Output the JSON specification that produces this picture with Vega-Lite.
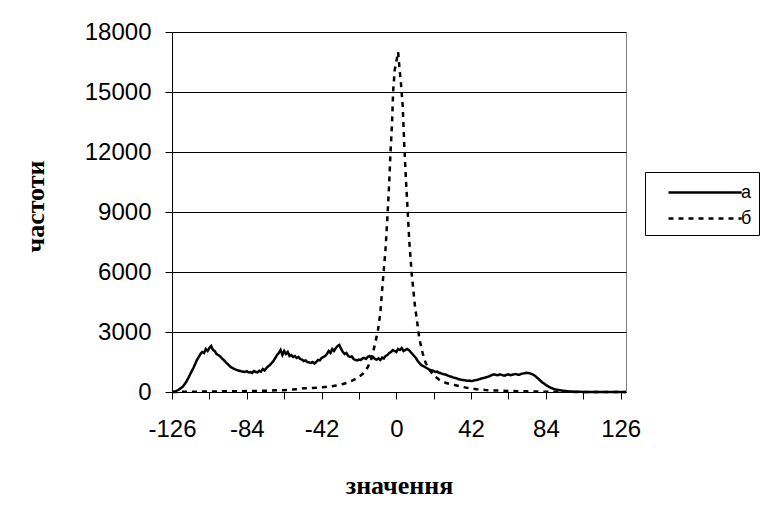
{
  "$schema": "https://vega.github.io/schema/vega-lite/v6.json",
  "autosize": {"type": "none"},
  "padding": {"left": 172, "top": 32, "right": 134, "bottom": 115},
  "width": 454,
  "height": 360,
  "background": "white",
  "config": {
    "font": "Liberation Sans",
    "view": {"stroke": "#808080", "strokeWidth": 1},
    "axis": {"labelColor": "black", "titleColor": "black", "domainColor": "black", "tickColor": "black", "domainWidth": 1, "tickWidth": 1}
  },
  "datasets": {
    "a": [
      [-126,0],[-124,30],[-122,130],[-120,260],[-118,500],[-116,850],[-114,1200],[-112,1600],[-110,1900],[-109,2000],[-108,1950],[-107,2150],[-106,2050],[-105,2200],[-104,2300],[-103,2100],[-102,2050],[-101,1900],[-100,1850],[-99,1780],[-97,1600],[-95,1420],[-93,1250],[-91,1150],[-89,1080],[-87,1030],[-85,1000],[-84,1040],[-83,980],[-82,1000],[-81,950],[-80,1050],[-79,1000],[-78,980],[-77,1060],[-76,1020],[-75,1150],[-74,1080],[-73,1200],[-72,1280],[-71,1350],[-70,1450],[-69,1550],[-68,1700],[-67,1850],[-66,1950],[-65,2100],[-64,1850],[-63,2050],[-62,1900],[-61,2000],[-60,1800],[-59,1850],[-58,1750],[-57,1800],[-56,1700],[-55,1750],[-54,1650],[-53,1620],[-52,1550],[-51,1580],[-50,1500],[-49,1480],[-48,1450],[-47,1500],[-46,1420],[-45,1500],[-44,1600],[-43,1580],[-42,1700],[-41,1750],[-40,1800],[-39,1900],[-38,2050],[-37,1950],[-36,2150],[-35,2050],[-34,2200],[-33,2300],[-32,2350],[-31,2150],[-30,2000],[-29,1900],[-28,1950],[-27,1800],[-26,1750],[-25,1780],[-24,1650],[-23,1600],[-22,1580],[-21,1620],[-20,1600],[-19,1680],[-18,1700],[-17,1650],[-16,1760],[-15,1800],[-14,1700],[-13,1750],[-12,1650],[-11,1620],[-10,1680],[-9,1600],[-8,1720],[-7,1680],[-6,1800],[-5,1850],[-4,1950],[-3,2000],[-2,2100],[-1,2050],[0,2000],[1,2150],[2,2100],[3,2200],[4,2050],[5,2100],[6,2150],[7,2100],[8,2000],[9,1900],[10,1800],[11,1700],[12,1550],[13,1450],[14,1350],[15,1300],[16,1250],[17,1200],[18,1150],[19,1100],[20,1080],[21,1050],[22,1000],[23,1020],[24,960],[25,940],[26,900],[27,880],[28,860],[29,820],[30,780],[31,760],[32,720],[33,700],[34,680],[35,640],[36,620],[37,600],[38,590],[39,580],[40,560],[41,570],[42,550],[43,560],[44,580],[45,600],[46,620],[47,650],[48,680],[49,700],[50,720],[51,750],[52,780],[53,820],[54,860],[55,880],[56,850],[57,840],[58,880],[59,860],[60,830],[61,820],[62,860],[63,880],[64,840],[65,860],[66,880],[67,900],[68,870],[69,860],[70,900],[71,920],[72,940],[73,960],[74,950],[75,930],[76,900],[77,860],[78,800],[79,720],[80,640],[81,560],[82,480],[83,420],[84,350],[85,300],[86,250],[87,200],[88,170],[89,140],[90,120],[91,100],[92,85],[93,70],[95,50],[97,30],[100,15],[105,5],[110,0],[120,0],[129,0]
    ],
    "b": [
      [-126,0],[-120,10],[-110,20],[-100,30],[-90,40],[-80,50],[-70,70],[-60,110],[-55,150],[-52,185],[-48,200],[-44,215],[-40,250],[-36,290],[-34,320],[-30,400],[-28,450],[-26,520],[-24,600],[-22,700],[-20,820],[-18.6,935],[-16,1250],[-14,1650],[-12.1,2350],[-10.3,3100],[-9,3935],[-7.6,5515],[-6.1,7100],[-5,8765],[-4.1,10265],[-3.3,11935],[-2.4,13435],[-1.8,15015],[-0.9,16100],[1,17000],[1.7,16265],[2.6,15435],[3.6,14265],[4.5,12265],[5.4,10600],[6.4,9015],[7.3,7515],[8.6,5935],[10.5,4265],[11.8,3435],[12.9,2685],[14.8,1935],[16.5,1450],[18.7,1100],[21,820],[24.3,600],[28,450],[32.7,350],[37,260],[41,185],[45,140],[50,100],[55,80],[60,60],[70,40],[80,20],[90,10],[100,5],[110,0],[129,0]
    ]
  },
  "layer": [
    {
      "data": {"name": "a"},
      "transform": [
        {"calculate": "'а'", "as": "s"},
        {"calculate": "datum[0]", "as": "x"},
        {"calculate": "datum[1]", "as": "y"}
      ],
      "mark": {"type": "line", "color": "black", "strokeWidth": 2.5},
      "encoding": {
        "x": {"field": "x", "type": "quantitative"},
        "y": {"field": "y", "type": "quantitative"},
        "strokeDash": {"field": "s", "type": "nominal"}
      }
    },
    {
      "data": {"name": "b"},
      "transform": [
        {"calculate": "'б'", "as": "s"},
        {"calculate": "datum[0]", "as": "x"},
        {"calculate": "datum[1]", "as": "y"}
      ],
      "mark": {"type": "line", "color": "black", "strokeWidth": 2.5},
      "encoding": {
        "x": {"field": "x", "type": "quantitative"},
        "y": {"field": "y", "type": "quantitative"},
        "strokeDash": {"field": "s", "type": "nominal"}
      }
    }
  ],
  "encoding": {
    "x": {
      "field": "x", "type": "quantitative",
      "scale": {"domain": [-126, 129], "nice": false, "zero": false},
      "axis": {
        "values": [-126,-105,-84,-63,-42,-21,0,21,42,63,84,105,126],
        "labelExpr": "datum.value % 42 == 0 ? '' + datum.value : ''",
        "grid": false, "tickSize": 7, "labelFontSize": 24, "labelPadding": 18, "labelFlush": false,
        "title": "значення", "titleFont": "Liberation Serif", "titleFontSize": 26, "titleFontWeight": "bold",
        "titleY": 93, "titleBaseline": "middle"
      }
    },
    "y": {
      "field": "y", "type": "quantitative",
      "scale": {"domain": [0, 18000], "nice": false},
      "axis": {
        "values": [0,3000,6000,9000,12000,15000,18000], "format": "d",
        "grid": true, "gridColor": "black", "gridWidth": 1,
        "tickSize": 7, "labelFontSize": 24, "labelPadding": 14, "labelFlush": false,
        "title": "частоти", "titleFont": "Liberation Serif", "titleFontSize": 26, "titleFontWeight": "bold",
        "titleX": -137, "titleY": 174, "titleBaseline": "middle", "titleAngle": -90
      }
    },
    "strokeDash": {
      "field": "s", "type": "nominal",
      "scale": {"domain": ["а", "б"], "range": [[1, 0], [5, 5]]},
      "legend": {
        "title": null, "orient": "none", "legendX": 473, "legendY": 140,
        "strokeColor": "black", "fillColor": "white", "padding": 7,
        "symbolType": "M-1,0H5.1", "symbolSize": 576, "symbolStrokeWidth": 2.5, "symbolStrokeColor": "black",
        "symbolOffset": 15, "labelOffset": 47, "labelFontSize": 18, "labelColor": "black", "rowPadding": 3
      }
    }
  }
}
